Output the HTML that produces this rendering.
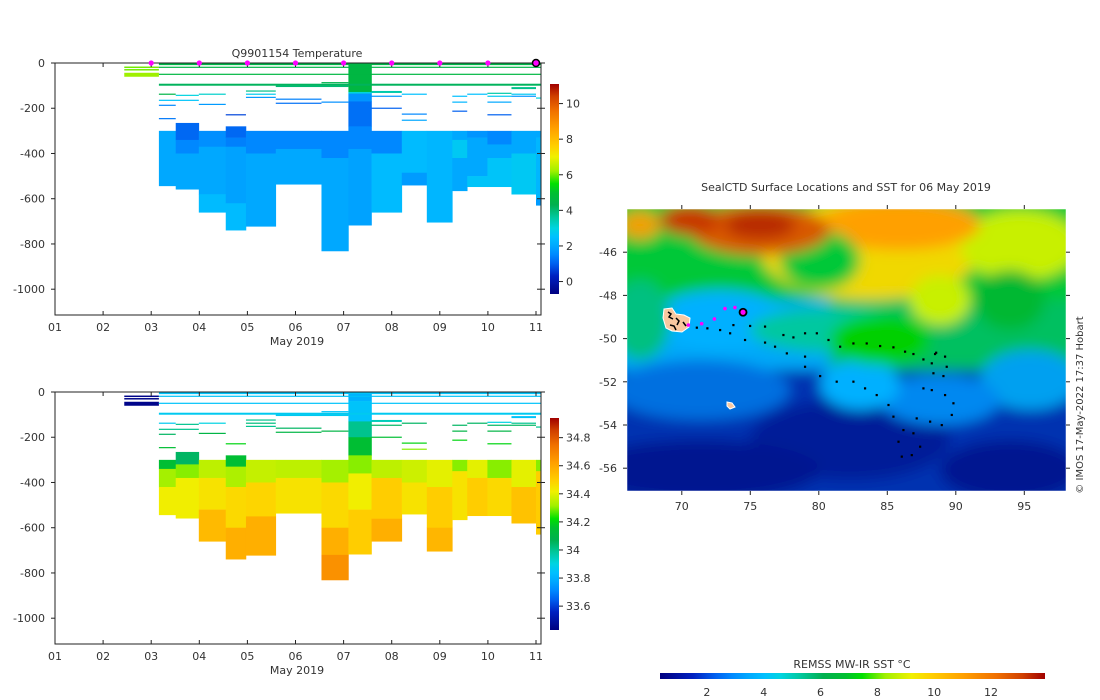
<!DOCTYPE html>
<html><head><meta charset="utf-8">
<style>
html,body{margin:0;padding:0;background:#fff;}
svg{display:block;font-family:"DejaVu Sans","Liberation Sans",sans-serif;}
text{fill:#333;font-size:11px;}
</style></head>
<body>
<svg id="fig" width="1100" height="700" viewBox="0 0 1100 700" xmlns="http://www.w3.org/2000/svg">
<defs>
  <filter id="blur" x="-20%" y="-20%" width="140%" height="140%"><feGaussianBlur stdDeviation="7"/></filter>
  <clipPath id="mapclip"><rect x="627" y="209" width="439" height="282"/></clipPath>
  <linearGradient id="cbT" x1="0" y1="1" x2="0" y2="0"></linearGradient>
  <linearGradient id="cbS" x1="0" y1="1" x2="0" y2="0"></linearGradient>
  <linearGradient id="cbSST" x1="0" y1="0" x2="1" y2="0"></linearGradient>
</defs>
<g id="topPanel"></g>
<g id="botPanel"></g>
<g id="mapPanel">
  <g clip-path="url(#mapclip)">
    <rect x="627" y="209" width="439" height="282" fill="#0050d0"/>
    <g filter="url(#blur)">
      <rect x="600" y="190" width="500" height="120" fill="#00c838"/>
      <rect x="600" y="300" width="330" height="80" fill="#00a8f8"/>
      <rect x="830" y="300" width="260" height="70" fill="#00c060"/>
      <ellipse cx="720" cy="320" rx="70" ry="30" fill="#00b0ff"/>
      <ellipse cx="640" cy="320" rx="30" ry="40" fill="#00c080"/>
      <ellipse cx="830" cy="330" rx="80" ry="22" fill="#00c8a0"/>
      <rect x="600" y="370" width="500" height="140" fill="#0030b0"/>
      <ellipse cx="700" cy="390" rx="90" ry="30" fill="#0070e0"/>
      <ellipse cx="850" cy="440" rx="100" ry="40" fill="#001c98"/>
      <ellipse cx="700" cy="470" rx="120" ry="30" fill="#001890"/>
      <ellipse cx="1010" cy="470" rx="70" ry="30" fill="#001890"/>
      <ellipse cx="1030" cy="380" rx="50" ry="30" fill="#00a0f0"/>
      <ellipse cx="940" cy="400" rx="60" ry="25" fill="#0088f0"/>
      <ellipse cx="860" cy="385" rx="40" ry="25" fill="#00b0ff"/>
      <ellipse cx="880" cy="340" rx="50" ry="25" fill="#00d000"/>
      <ellipse cx="870" cy="250" rx="110" ry="50" fill="#f0d800"/>
      <ellipse cx="1020" cy="245" rx="60" ry="35" fill="#c8f000"/>
      <ellipse cx="900" cy="225" rx="80" ry="25" fill="#ffa000"/>
      <ellipse cx="820" cy="260" rx="40" ry="30" fill="#00c838"/>
      <ellipse cx="760" cy="230" rx="70" ry="25" fill="#d85800"/>
      <ellipse cx="690" cy="220" rx="30" ry="15" fill="#c83800"/>
      <ellipse cx="760" cy="225" rx="35" ry="14" fill="#b82c00"/>
      <ellipse cx="640" cy="225" rx="20" ry="14" fill="#f0a000"/>
      <ellipse cx="940" cy="300" rx="30" ry="25" fill="#c8f000"/>
      <ellipse cx="1010" cy="300" rx="35" ry="30" fill="#00b830"/>
    </g>
  </g>
  <rect x="627" y="209" width="439" height="282" fill="none" stroke="#fff" stroke-width="0.5"/>
  <g>
    <path d="M664,309 L672,308 L676,314 L684,315 L690,318 L689,327 L682,332 L672,331 L666,328 L663,318 Z" fill="#f8c8a0" stroke="#fff" stroke-width="1"/>
    <path d="M668,312 l3,2 l-2,3 l4,2 M676,318 l3,3 l-2,4 M670,325 l4,1 l2,4 M683,322 l3,4" stroke="#000" stroke-width="1.5" fill="none"/>
  </g>
  <path d="M727,402 l5,1 l3,4 l-5,2 l-3,-3 Z" fill="#f8c8a0" stroke="#fff"/>
  <g id="track"></g>
  <text x="846" y="191" text-anchor="middle" style="font-size:11px">SealCTD Surface Locations and SST for 06 May 2019</text>
  <text transform="translate(1083,405) rotate(-90)" text-anchor="middle" style="font-size:10px">© IMOS 17-May-2022 17:37 Hobart</text>
  <g id="mapAxes"></g>
  <rect x="660" y="673" width="385" height="6" fill="url(#cbSST)"/>
  <text x="852" y="668" text-anchor="middle">REMSS MW-IR SST °C</text>
  <g id="sstTicks"></g>
</g>
</svg>
<script>
// ---------- data ----------
const colStart = [3.16,3.51,3.99,4.55,4.97,5.59,6.54,7.10,7.58,8.21,8.73,9.26,9.57,9.99,10.49,11.0];
const colEnd   = [3.51,3.99,4.55,4.97,5.59,6.54,7.10,7.58,8.21,8.73,9.26,9.57,9.99,10.49,11.0,11.1];
const colTop   = [300,265,300,280,300,300,300,0,300,300,300,300,300,300,300,300];
const tempLayers = [
 [[543,2.0]],
 [[340,1.1],[400,1.5],[558,2.0]],
 [[370,1.6],[580,2.0],[660,2.4]],
 [[330,1.1],[370,1.4],[620,1.9],[739,2.4]],
 [[400,1.5],[722,2.0]],
 [[380,1.5],[536,2.0]],
 [[420,1.5],[831,2.0]],
 [[128,4.6],[135,3.0],[170,1.7],[280,1.2],[380,1.5],[717,1.9]],
 [[400,1.5],[660,2.4]],
 [[485,2.4],[540,1.8]],
 [[704,2.3]],
 [[340,2.0],[420,2.7],[565,2.0]],
 [[330,1.7],[500,2.0],[547,2.6]],
 [[360,1.5],[420,2.0],[547,2.6]],
 [[400,2.0],[580,2.7]],
 [[330,2.0],[600,2.3],[629,1.8]]
];
const salLayers = [
 [[340,34.15],[420,34.32],[543,34.42]],
 [[320,34.05],[380,34.3],[558,34.42]],
 [[380,34.35],[520,34.45],[660,34.55]],
 [[330,34.15],[420,34.33],[600,34.47],[739,34.58]],
 [[400,34.36],[550,34.48],[722,34.58]],
 [[380,34.35],[536,34.45]],
 [[400,34.32],[600,34.47],[720,34.58],[831,34.66]],
 [[40,33.8],[130,33.85],[200,34.0],[280,34.15],[360,34.3],[520,34.42],[717,34.5]],
 [[380,34.35],[560,34.5],[660,34.58]],
 [[400,34.37],[540,34.45]],
 [[420,34.4],[600,34.5],[704,34.56]],
 [[350,34.3],[565,34.45]],
 [[380,34.4],[547,34.5]],
 [[380,34.3],[547,34.47]],
 [[420,34.4],[580,34.53]],
 [[350,34.3],[629,34.5]]
];
const lineStart = [2.44,2.44,2.44,3.16,3.16,3.16,3.16,5.59,6.54,3.16,3.51,3.99,4.97,4.97,4.97,3.16,3.16,3.99,4.55,3.16,5.59,5.59,6.54,7.58,7.58,7.58,8.21,8.21,8.21,9.26,9.26,9.26,9.57,9.99,9.99,9.99,9.99,10.49,10.49,10.49,11.0];
const lineEnd   = [3.16,3.16,3.16,11.1,11.1,11.1,11.1,7.10,7.10,3.51,3.99,4.55,5.59,5.59,5.59,3.99,3.51,4.55,4.97,3.51,6.54,6.54,7.10,8.21,8.21,8.21,8.73,8.73,8.73,9.57,9.57,9.57,9.99,10.49,10.49,10.49,10.49,11.0,11.0,11.0,11.1];
const lineDepth = [19,30,52,5,19,50,96,103,87,138,143,138,124,138,152,165,187,183,229,246,160,178,173,128,147,200,138,226,253,147,173,213,138,134,147,173,229,111,138,147,155];
const lineTemp  = [6.0,6.0,6.2,4.5,4.5,4.6,4.2,4.0,4.4,4.5,3.0,3.2,3.8,2.8,1.8,2.6,1.5,1.8,0.7,1.3,1.4,1.2,1.6,3.5,1.7,1.0,2.5,1.5,2.0,2.5,2.3,1.0,2.5,3.5,2.7,2.0,1.0,3.8,2.7,1.7,3.0];
const lineSal   = [33.45,33.45,33.45,33.85,33.85,33.85,33.87,33.87,33.85,33.87,34.0,33.9,34.0,34.02,34.0,34.0,34.05,34.1,34.2,34.15,34.05,34.1,34.1,33.95,34.05,34.15,34.05,34.2,34.3,34.05,34.1,34.2,34.05,33.9,34.05,34.1,34.2,33.85,34.0,34.05,34.0];
const lineThick = [1.5,1.5,4,2,1.2,1.2,2,1.5,1.2,1.2,1.2,1.2,1.2,1.2,1.2,1.2,1.2,1.2,1.2,1.2,1.2,1.2,1.2,2,1.2,1.2,1.2,1.2,1.2,1.2,1.2,1.2,1.2,1.2,1.2,1.2,1.2,2,1.2,1.2,1.2];
const profileDays = [3,4,5,6,7,8,9,10];
const currentDay = 11;
const dayTicks = ["01","02","03","04","05","06","07","08","09","10","11"];
const depthTicks = [0,-200,-400,-600,-800,-1000];
const tempTicks = [0,2,4,6,8,10];
const salTicks = [33.6,33.8,34,34.2,34.4,34.6,34.8];
const sstTicks = [2,4,6,8,10,12];
const lonTicks = [70,75,80,85,90,95];
const latTicks = [-46,-48,-50,-52,-54,-56];
const recentLon = [70.48,71.45,72.38,73.15,73.88];
const recentLat = [-49.37,-49.31,-49.09,-48.61,-48.56];
const currentLon = 74.47, currentLat = -48.78;
const trackLon = [71.09,71.86,72.79,73.52,74.61,76.07,76.80,77.66,78.99,78.99,80.09,81.30,82.52,83.37,84.22,85.08,85.44,86.17,85.81,86.05,86.78,87.39,86.90,87.14,88.12,88.97,89.70,89.82,89.21,88.24,87.63,73.76,74.98,76.07,77.41,78.14,78.99,79.85,80.70,81.55,82.52,83.49,84.47,85.44,86.29,86.90,87.63,88.48,89.21,89.33,89.09,88.36,88.24,88.56];
const trackLat = [-49.49,-49.52,-49.60,-49.75,-50.06,-50.18,-50.37,-50.68,-50.83,-51.30,-51.73,-51.99,-51.99,-52.30,-52.61,-53.07,-53.61,-54.23,-54.77,-55.46,-55.39,-55.00,-54.38,-53.69,-53.84,-54.00,-53.53,-52.99,-52.61,-52.38,-52.30,-49.37,-49.41,-49.44,-49.83,-49.94,-49.75,-49.75,-50.06,-50.37,-50.22,-50.22,-50.34,-50.40,-50.60,-50.71,-50.96,-50.71,-50.83,-51.30,-51.73,-51.60,-51.14,-50.65];

// ---------- colormap ----------
const cmapF = [0,0.085,0.144,0.186,0.229,0.271,0.314,0.364,0.424,0.483,0.525,0.585,0.653,0.703,0.788,0.873,0.941,1];
const cmapC = ["#000080","#0020c0","#0060f0","#0088ff","#00a8ff","#00c0ff","#00d4e0","#00c8a0","#00b050","#00c030","#00e000","#a0f000","#f0f000","#ffd000","#ffa000","#f07000","#d04000","#a00000"];
function hex(c){return [parseInt(c.substr(1,2),16),parseInt(c.substr(3,2),16),parseInt(c.substr(5,2),16)];}
function cmap(f){
  f=Math.max(0,Math.min(1,f));
  for(let i=1;i<cmapF.length;i++){ if(f<=cmapF[i]){ const t=(f-cmapF[i-1])/(cmapF[i]-cmapF[i-1]); const a=hex(cmapC[i-1]),b=hex(cmapC[i]); return `rgb(${Math.round(a[0]+(b[0]-a[0])*t)},${Math.round(a[1]+(b[1]-a[1])*t)},${Math.round(a[2]+(b[2]-a[2])*t)})`; } }
  return cmapC[cmapC.length-1];
}
const TMIN=-0.7,TMAX=11.1,SMIN=33.43,SMAX=34.94,SSTMIN=0.35,SSTMAX=13.9;
const NS="http://www.w3.org/2000/svg";
function mk(tag,attrs,parent){const e=document.createElementNS(NS,tag);for(const k in attrs)e.setAttribute(k,attrs[k]);parent.appendChild(e);return e;}
['cbT','cbS','cbSST'].forEach(id=>{const g=document.getElementById(id);for(let i=0;i<cmapF.length;i++){mk('stop',{offset:cmapF[i],'stop-color':cmapC[i]},g);}});

// ---------- axes ----------
const X0=55, DPX=48.1, DEPTHPX=0.2262;
const xDay = d => X0 + (d-1)*DPX;

function panel(gid, y0, layers, lineVals, vmin, vmax, cbTop, cbBot, ticks, withMarkers, title){
  const g=document.getElementById(gid);
  const yD = d => y0 + d*DEPTHPX;
  const yBottom = y0+252;
  const norm = v => (v-vmin)/(vmax-vmin);
  for(let c=0;c<colStart.length;c++){
    let top=colTop[c];
    for(const [bot,val] of layers[c]){
      const r=mk('rect',{x:xDay(colStart[c]),y:yD(top),width:xDay(colEnd[c])-xDay(colStart[c])+0.3,height:yD(bot)-yD(top)+0.3,fill:cmap(norm(val))},g);
      
      
      top=bot;
    }
  }
  for(let i=0;i<lineStart.length;i++){
    const r=mk('rect',{x:xDay(lineStart[i]),y:yD(lineDepth[i])-lineThick[i]/2,width:xDay(lineEnd[i])-xDay(lineStart[i]),height:lineThick[i],fill:cmap(norm(lineVals[i]))},g);
    
    
  }
  const fr=mk('path',{d:`M${X0},${y0} V${yBottom} H541 V${y0} Z`,fill:'none',stroke:'#222','stroke-width':1},g);
  
  
  dayTicks.forEach((lab,i)=>{
    const x=xDay(i+1);
    mk('line',{x1:x,x2:x,y1:yBottom,y2:yBottom-4,stroke:'#222'},g);
    mk('line',{x1:x,x2:x,y1:y0,y2:y0+4,stroke:'#222'},g);
    const t=mk('text',{x:x,y:yBottom+16,'text-anchor':'middle'},g); t.textContent=lab;
    
    
  });
  const xl=mk('text',{x:297,y:yBottom+30,'text-anchor':'middle'},g); xl.textContent='May 2019';
  
  
  depthTicks.forEach(d=>{
    const y=yD(-d);
    mk('line',{x1:X0-4,x2:X0,y1:y,y2:y,stroke:'#222'},g);
    mk('line',{x1:537,x2:545,y1:y,y2:y,stroke:'#222'},g);
    const t=mk('text',{x:X0-10,y:y+4,'text-anchor':'end'},g); t.textContent=d;
    
    
  });
  const cb=mk('rect',{x:550,y:cbTop,width:9,height:cbBot-cbTop,fill:`url(#${gid==='topPanel'?'cbT':'cbS'})`},g);
  
  
  ticks.forEach(v=>{
    const y=cbBot-(v-vmin)/(vmax-vmin)*(cbBot-cbTop);
    mk('line',{x1:559,x2:563,y1:y,y2:y,stroke:'#222'},g);
    const t=mk('text',{x:566,y:y+4},g); t.textContent=String(v);
    
    
  });
  if(title){const t=mk('text',{x:297,y:57,'text-anchor':'middle'},g);t.textContent=title;
    
    }
  if(withMarkers){
    profileDays.forEach(d=>{const m=mk('circle',{cx:xDay(d),cy:y0,r:2.6,fill:'#ff00ff'},g);
      
      });
    const m=mk('circle',{cx:xDay(currentDay),cy:y0,r:3.5,fill:'#ff00ff',stroke:'#000','stroke-width':1.5},g);
    
    
  }
}
panel('topPanel',63,tempLayers,lineTemp,TMIN,TMAX,84,294,tempTicks,true,'Q9901154  Temperature');
panel('botPanel',392,salLayers,lineSal,SMIN,SMAX,418,630,salTicks,false,null);

// ---------- map ----------
const lonX = lon => 627 + (lon-66)*13.7;
const latY = lat => 209 + (-44-lat)*21.6;
const tr=document.getElementById('track');
for(let i=0;i<trackLon.length;i++){
  const c=mk('rect',{x:lonX(trackLon[i])-1,y:latY(trackLat[i])-1,width:2.2,height:2.2,fill:'#000'},tr);
  
  
}
for(let i=0;i<recentLon.length;i++){
  const c=mk('circle',{cx:lonX(recentLon[i]),cy:latY(recentLat[i]),r:1.8,fill:'#ff00ff'},tr);
  
  
}
const cur=mk('circle',{cx:lonX(currentLon),cy:latY(currentLat),r:3.5,fill:'#ff00ff',stroke:'#000','stroke-width':1.8},tr);


const ma=document.getElementById('mapAxes');
lonTicks.forEach(l=>{const x=lonX(l);
  mk('line',{x1:x,x2:x,y1:209,y2:205,stroke:'#222'},ma);
  mk('line',{x1:x,x2:x,y1:491,y2:495,stroke:'#222'},ma);
  const t=mk('text',{x:x,y:510,'text-anchor':'middle'},ma);t.textContent=l;
  
  });
latTicks.forEach(l=>{const y=latY(l);
  mk('line',{x1:623,x2:627,y1:y,y2:y,stroke:'#222'},ma);
  mk('line',{x1:1066,x2:1070,y1:y,y2:y,stroke:'#222'},ma);
  const t=mk('text',{x:617,y:y+4,'text-anchor':'end'},ma);t.textContent=l;
  
  });
const st=document.getElementById('sstTicks');
sstTicks.forEach(v=>{const x=660+(v-SSTMIN)/(SSTMAX-SSTMIN)*385;
  const t=mk('text',{x:x,y:696,'text-anchor':'middle'},st);t.textContent=v;
  
  });
</script>
</body></html>
